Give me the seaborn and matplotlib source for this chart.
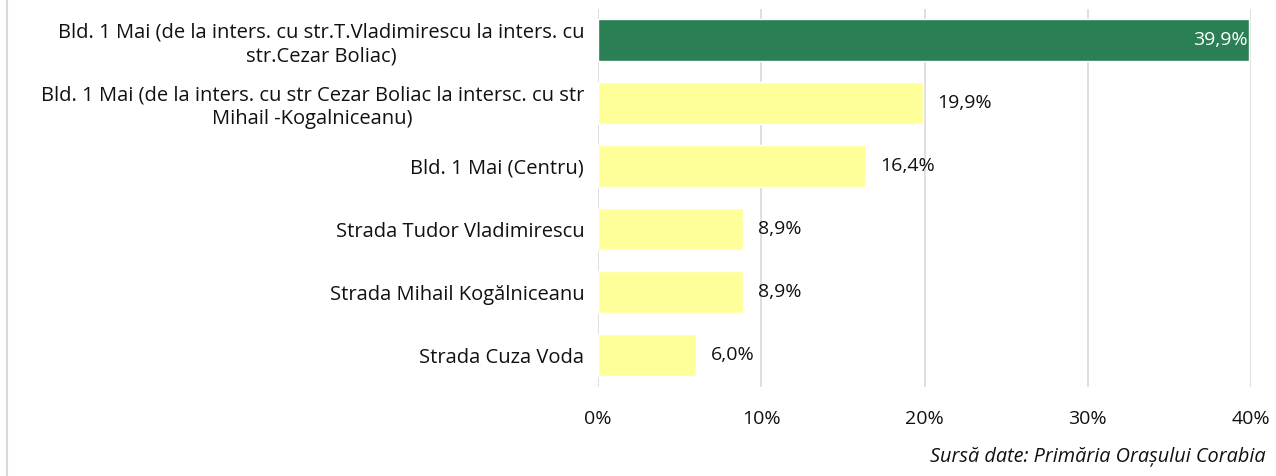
import pandas as pd
import seaborn as sns
import matplotlib.pyplot as plt
from matplotlib.lines import Line2D

#date
streets = ['Bld. 1 Mai (de la inters. cu str.T.Vladimirescu la inters. cu\nstr.Cezar Boliac)',
           'Bld. 1 Mai (de la inters. cu str Cezar Boliac la intersc. cu str\nMihail -Kogalniceanu)',
           'Bld. 1 Mai (Centru)',
           'Strada Tudor Vladimirescu',
           'Strada Mihail Kogălniceanu',
           'Strada Cuza Voda']
share = [39.9, 19.9, 16.4, 8.9, 8.9, 6.0]
group = ['max', 'rest', 'rest', 'rest', 'rest', 'rest']
ticks = [0, 10, 20, 30, 40]
tick_labels = ['0%', '10%', '20%', '30%', '40%']

df = pd.DataFrame({'strada': streets, 'pondere': share, 'grup': group})

sns.set_style('white')
plt.rcParams['font.family'] = ['Open Sans', 'DejaVu Sans']

fig = plt.figure(figsize = (12.76, 4.76), dpi = 100)
ax = fig.add_axes([0.4687, 0.188, 0.5117, 0.794])
sns.barplot(data = df, x = 'pondere', y = 'strada', hue = 'grup',
            palette = {'max': '#2A7F54', 'rest': '#FFFF99'},
            width = 0.67, legend = False, ax = ax, saturation = 1)
ax.set_xlim(0, 40)
ax.set_xticks(ticks)
ax.set_xticklabels(tick_labels, fontsize = 14, color = '#111111')
ax.tick_params(axis = 'x', length = 0, pad = 17)
ax.tick_params(axis = 'y', length = 0, pad = 10, labelsize = 14.5, labelcolor = '#111111')
for lab in ax.get_yticklabels():
    lab.set_multialignment('center')
    lab.set_linespacing(1.25)
ax.set_xlabel('')
ax.set_ylabel('')
ax.grid(axis = 'x', color = '#D9D9D9', linewidth = 1.2)
ax.set_axisbelow(True)
for s in ax.spines.values():
    s.set_visible(False)

#etichete valori
for cont in ax.containers:
    for bar in cont:
        w = bar.get_width()
        if w != w:
            continue
        txt = f'{w:.1f}'.replace('.', ',') + '%'
        yc = bar.get_y() + bar.get_height() / 2
        if w > 30:
            ax.text(w - 0.1, yc, txt, ha = 'right', va = 'center', color = 'white', fontsize = 14)
        else:
            ax.text(w + 0.9, yc, txt, ha = 'left', va = 'center', color = '#111111', fontsize = 14)

fig.text(0.992, 0.04, 'Sursă date: Primăria Orașului Corabia', ha = 'right', va = 'center',
         style = 'italic', fontsize = 14.3, color = '#111111')
fig.add_artist(Line2D([0.0055, 0.0055], [0, 1], color = '#D9D9D9', linewidth = 1.5))

plt.savefig('out.png', dpi = 100)
